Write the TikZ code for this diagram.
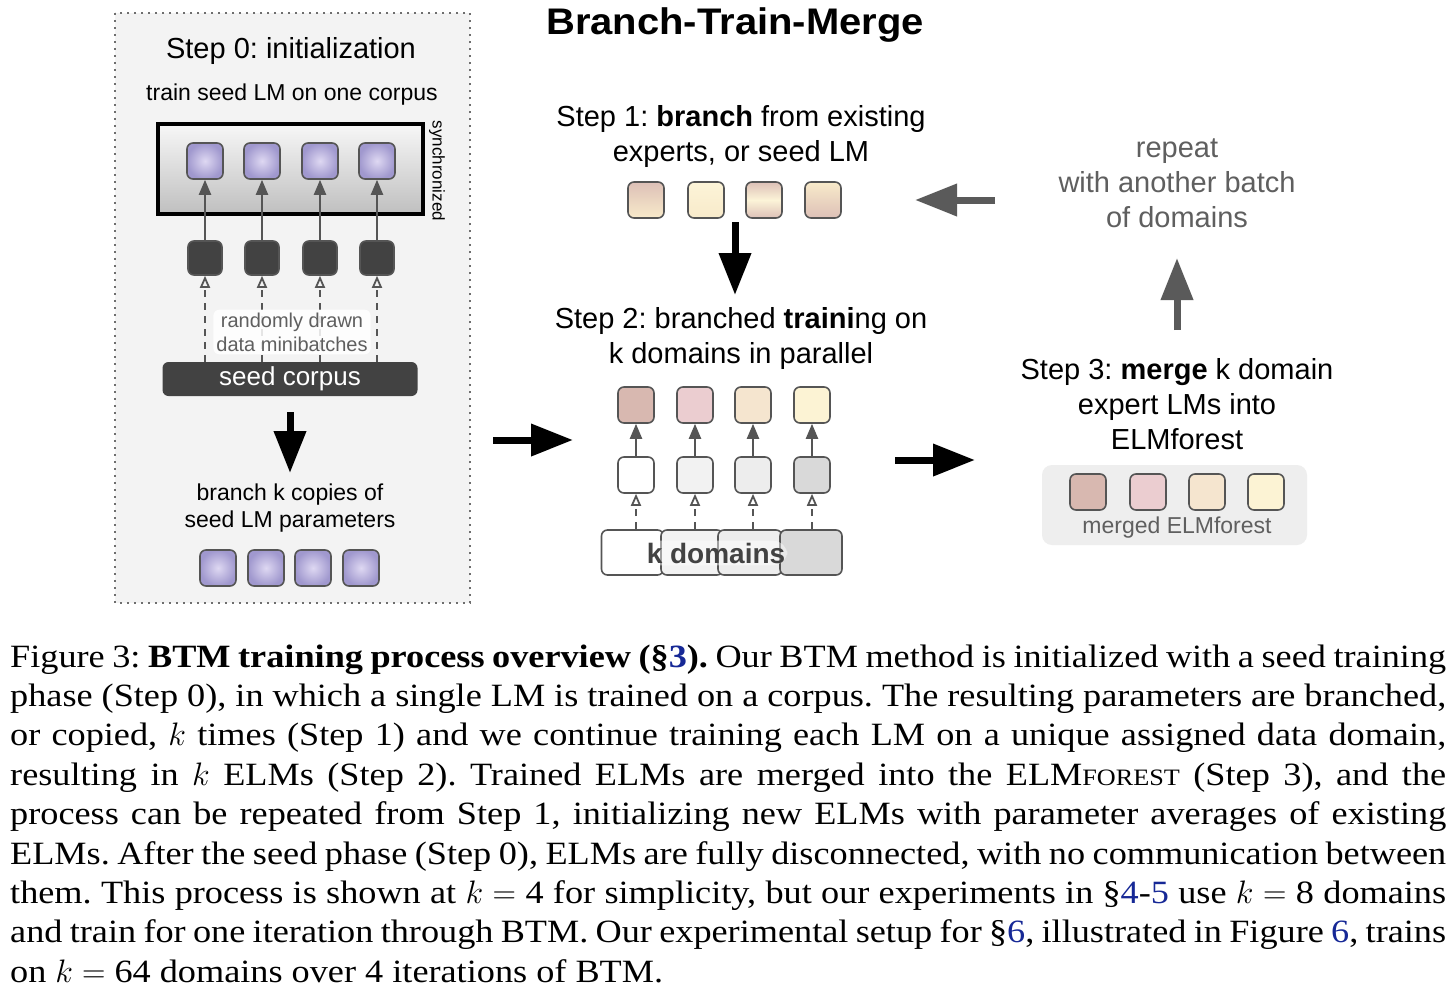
\documentclass[tikz,border=0pt]{standalone}
\usepackage{fix-cm}
\usepackage{fontspec}
\setmainfont{Liberation Serif}[FakeStretch=1.115]
\setsansfont{Liberation Sans}
\usetikzlibrary{arrows.meta,shapes}

\definecolor{linkblue}{RGB}{22,40,150}
\definecolor{boxgray}{RGB}{243,243,243}
\definecolor{edgegray}{RGB}{85,85,85}
\definecolor{dotgray}{RGB}{110,110,110}
\definecolor{darkblk}{RGB}{66,66,66}
\definecolor{arrgray}{RGB}{90,90,90}
\definecolor{txtgray}{RGB}{95,95,95}
\definecolor{purpin}{RGB}{222,216,242}
\definecolor{purpout}{RGB}{160,152,206}
\definecolor{dom1}{RGB}{216,184,176}
\definecolor{dom2}{RGB}{235,205,208}
\definecolor{dom3}{RGB}{245,229,207}
\definecolor{dom4}{RGB}{252,243,212}
\definecolor{pinkb}{RGB}{221,192,183}
\definecolor{beige}{RGB}{248,234,202}
\definecolor{beigel}{RGB}{252,244,216}
\definecolor{mergegray}{RGB}{238,238,238}

\tikzset{
  lm/.style={shape=rectangle,rounded corners=6pt,draw=edgegray,line width=1.6pt,minimum size=36pt,inner sep=0pt},
  seedlm/.style={lm,inner color=purpin,outer color=purpout},
  batch/.style={lm,fill=darkblk,minimum size=34pt},
  uparr/.style={-{Triangle[length=15pt,width=12pt]},draw=edgegray,line width=2.2pt},
  dasharr/.style={-{Triangle[open,length=12pt,width=10pt]},draw=edgegray,line width=1.8pt,dash pattern=on 7pt off 6pt},
  bigarr/.style={-{Triangle[length=42pt,width=31pt]},line width=7pt,draw=black},
  grayarr/.style={bigarr,draw=arrgray},
  steptxt/.style={font=\fontsize{29}{35}\selectfont\sffamily,align=center,inner sep=0pt},
  note/.style={font=\fontsize{23}{27}\selectfont\sffamily,align=center,inner sep=0pt}
}

\begin{document}
\frenchspacing
\begin{tikzpicture}[x=1pt,y=-1pt]
\path[fill=white] (0,0) rectangle (1456,1002);
\useasboundingbox (0,0) rectangle (1456,1002);

% title
\node[inner sep=0pt,font=\fontsize{37}{42}\selectfont\sffamily\bfseries] (title) at (735,25) {\scalebox{1.08}[1]{Branch-Train-Merge}};

% step 0
\draw[fill=boxgray,draw=dotgray,line width=1.6pt,dash pattern=on 1.6pt off 5.4pt] (115,13) rectangle (470,603);
\node[steptxt] (st0) at (291,51) {Step 0: initialization};
\node[note] (train) at (292,95) {train seed LM on one corpus};
\node[rectangle,draw=black,line width=4pt,minimum width=265pt,minimum height=90pt,top color=white!97!black,bottom color=black!25] (sync) at (290.5,169) {};
\node[inner sep=0pt,rotate=-90,font=\fontsize{17}{20}\selectfont\sffamily] (synctxt) at (437,171) {synchronized};
\node[shape=rectangle,rounded corners=6pt,fill=darkblk,minimum width=255pt,minimum height=34pt,inner sep=0pt,text=white,font=\fontsize{26}{30}\selectfont\sffamily] (corpus) at (290,379) {\raisebox{-2pt}{seed corpus}};

\foreach \i/\x in {1/205,2/262,3/320,4/377} {
  \node[seedlm] (s\i) at (\x,161) {};
  \node[batch] (b\i) at (\x,258) {};
  \draw[uparr] (b\i) -- (s\i);
  \draw[dasharr] (corpus.north -| b\i) -- (b\i);
}
\node[note,font=\fontsize{20}{24}\selectfont\sffamily,text=txtgray,fill=white,fill opacity=0.85,text opacity=1,rounded corners=6pt,inner sep=3pt] (minib) at (292,332) {randomly drawn\\data minibatches};

\coordinate (d0s) at (290,412);
\coordinate (d0e) at (290,473);
\draw[bigarr] (d0s) -- (d0e);
\node[note] (copies) at (290,508) {branch k copies of\\seed LM parameters};
\foreach \i/\x in {1/218,2/266,3/313,4/361}
  \node[seedlm] (c\i) at (\x,568) {};

% arrows between steps
\coordinate (r1s) at (493,440);
\coordinate (r1e) at (573,440);
\draw[bigarr] (r1s) -- (r1e);
\coordinate (r2s) at (895,460);
\coordinate (r2e) at (975,460);
\draw[bigarr] (r2s) -- (r2e);

% step 1
\node[steptxt] (st1) at (741,136) {Step 1: \textbf{branch} from existing\\experts, or seed LM};
\node[lm,top color=pinkb,bottom color=beige] (e1) at (646,200) {};
\node[lm,top color=beigel,bottom color=beige] (e2) at (706,200) {};
\node[lm,top color=pinkb,bottom color=pinkb,middle color=beigel] (e3) at (764,200) {};
\node[lm,top color=beige,bottom color=pinkb] (e4) at (823,200) {};
\coordinate (d1s) at (735,222);
\coordinate (d1e) at (735,295);
\draw[bigarr] (d1s) -- (d1e);

% step 2
\node[steptxt] (st2) at (741,338) {Step 2: branched \textbf{traini}ng on\\k domains in parallel};
\node[lm,fill=white,minimum width=62pt,minimum height=45pt] (k1) at (632.5,552.5) {};
\node[lm,fill=black!5,minimum width=62pt,minimum height=45pt] (k2) at (692,552.5) {};
\node[lm,fill=black!7,minimum width=64pt,minimum height=45pt] (k3) at (750,552.5) {};
\node[lm,fill=black!15,minimum width=62pt,minimum height=45pt] (k4) at (811,552.5) {};
\node[inner sep=2pt,fill=white,fill opacity=0.45,text opacity=1,rounded corners=14pt,text=darkblk,font=\fontsize{28}{32}\selectfont\sffamily\bfseries] (kdom) at (716,553) {k domains};
\foreach \i/\x/\c/\d in {1/636/dom1/white,2/695/dom2/black!5,3/753/dom3/black!7,4/812/dom4/black!15} {
  \node[lm,fill=\c] (t\i) at (\x,405) {};
  \node[lm,fill=\d] (m\i) at (\x,475) {};
  \draw[uparr] (m\i) -- (t\i);
  \draw[dasharr] (m\i |- k1.north) -- (m\i);
}

% step 3
\node[steptxt] (st3) at (1177,404) {Step 3: \textbf{merge} k domain\\expert LMs into\\ELMforest};
\node[shape=rectangle,rounded corners=10pt,fill=mergegray,minimum width=265pt,minimum height=80pt] (mbox) at (1174.5,505) {};
\foreach \i/\x/\c in {1/1088/dom1,2/1148/dom2,3/1207/dom3,4/1266/dom4}
  \node[lm,fill=\c] (f\i) at (\x,492) {};
\node[note,text=txtgray] (mtxt) at (1177,528) {merged ELMforest};

% repeat
\node[steptxt,text=txtgray] (rep) at (1177,183) {repeat\\with another batch\\of domains};
\coordinate (u1s) at (1177,330);
\coordinate (u1e) at (1177,258);
\draw[grayarr] (u1s) -- (u1e);
\coordinate (l1s) at (995,200);
\coordinate (l1e) at (915,200);
\draw[grayarr] (l1s) -- (l1e);

% caption
\node[anchor=base west,inner sep=0pt,text width=1436pt,align=justify,font=\fontsize{32.5}{39.4}\selectfont] (caption) at (10,667) {Figure 3: \textbf{BTM training process overview (§\textcolor{linkblue}{3}).} Our BTM method is initialized with a seed training\linebreak
phase (Step 0), in which a single LM is trained on a corpus. The resulting parameters are branched,\linebreak
or copied, $k$ times (Step 1) and we continue training each LM on a unique assigned data domain,\linebreak
resulting in $k$ ELMs (Step 2). Trained ELMs are merged into the ELM{\fontsize{23.5}{39.4}\selectfont FOREST} (Step 3), and the\linebreak
process can be repeated from Step 1, initializing new ELMs with parameter averages of existing\linebreak
ELMs. After the seed phase (Step 0), ELMs are fully disconnected, with no communication between\linebreak
them. This process is shown at $k={}$4 for simplicity, but our experiments in §\textcolor{linkblue}{4}-\textcolor{linkblue}{5} use $k={}$8 domains\linebreak
and train for one iteration through BTM. Our experimental setup for §\textcolor{linkblue}{6}, illustrated in Figure \textcolor{linkblue}{6}, trains\linebreak
on $k={}$64 domains over 4 iterations of BTM.};
\end{tikzpicture}
\end{document}
